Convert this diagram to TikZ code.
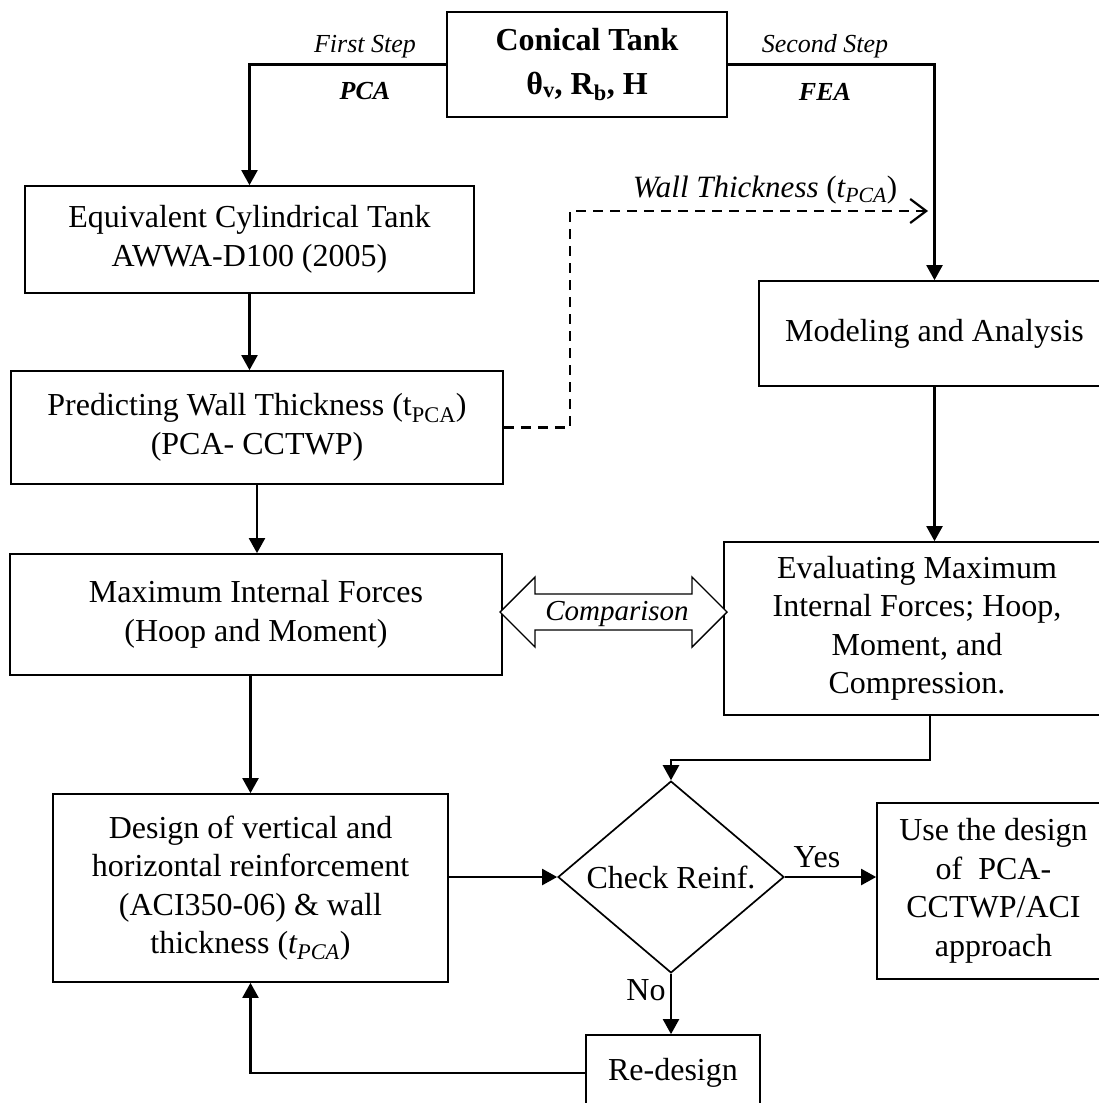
\documentclass[tikz,border=0pt]{standalone}
\usepackage{fontspec}
\setmainfont{Liberation Serif}
\usetikzlibrary{shapes.geometric,arrows.meta,calc}
\begin{document}
\begin{tikzpicture}[x=1pt,y=-1pt,
  every node/.style={font=\fontsize{32}{38.5}\selectfont},
  box/.style={draw, line width=1.7pt, rectangle, inner sep=0pt, align=center},
  arr/.style={line width=2.2pt, -{Triangle[length=15pt,width=16pt]}},
  lbl/.style={font=\fontsize{26}{30}\selectfont\itshape, anchor=base},
]
\useasboundingbox (0,0) rectangle (1099,1103);
\clip (0,0) rectangle (1099,1103);

% boxes
\node[box, minimum width=280pt, minimum height=105pt, font=\fontsize{32}{44}\selectfont\bfseries] (tank) at (587,64.5)
  {Conical Tank\\ θ\textsubscript{v}, R\textsubscript{b}, H};
\node[box, minimum width=449pt, minimum height=107pt] (eq) at (249.5,239.5)
  {Equivalent Cylindrical Tank\\AWWA-D100 (2005)};
\node[box, minimum width=492pt, minimum height=113pt] (pred) at (257,427.5)
  {Predicting Wall Thickness (t\textsubscript{PCA})\\(PCA- CCTWP)};
\node[box, minimum width=492pt, minimum height=121pt] (max) at (256,614.5)
  {Maximum Internal Forces\\(Hoop and Moment)};
\node[box, minimum width=395pt, minimum height=188pt] (des) at (250.5,888)
  {Design of vertical and\\horizontal reinforcement\\(ACI350-06) \& wall\\thickness (\textit{t\textsubscript{PCA}})};
\node[box, minimum width=351pt, minimum height=105pt] (model) at (934.5,333.5)
  {Modeling and Analysis};
\node[box, minimum width=386pt, minimum height=173pt] (eval) at (917,628.5)
  {Evaluating Maximum\\Internal Forces; Hoop,\\Moment, and\\Compression.};
\node[draw, diamond, line width=1.7pt, minimum width=226pt, minimum height=169pt, inner sep=0pt] (dia) at (671,877)
  {Check Reinf.};
\node[box, minimum width=233pt, minimum height=176pt] (use) at (993.5,891)
  {Use the design\\of~ PCA-\\CCTWP/ACI\\approach};
\node[box, minimum width=174pt, minimum height=76pt] (redes) at (673,1073)
  {Re-design};

% labels
\node[lbl] (l1) at (365,52) {First Step};
\node[lbl, font=\fontsize{26}{30}\selectfont\bfseries\itshape] (l2) at (365,99) {PCA};
\node[lbl] (l3) at (825,52) {Second Step};
\node[lbl, font=\fontsize{26}{30}\selectfont\bfseries\itshape] (l4) at (825,100) {FEA};
\node[anchor=base, font=\fontsize{31}{36}\selectfont] (l5) at (765,197) {\textit{Wall Thickness} (\textit{t\textsubscript{PCA}})};

% connectors
\draw[arr] (tank.west) -| (eq.north);
\draw[arr] (tank.east) -| (model.north);
\draw[arr] (eq.south) -- (eq.south |- pred.north);
\draw[arr] (pred.south) -- (pred.south |- max.north);
\draw[arr] (des.north |- max.south) -- (des.north);
\coordinate (dtip) at (928,211);
\draw[line width=2.2pt, dash pattern=on 10pt off 7pt, -{Straight Barb[length=16pt,width=24pt]}]
  (pred.east) -- ++(66,0) |- (dtip);
\draw[arr] (model.south) -- (model.south |- eval.north);

% comparison double arrow
\draw[line width=1.4pt, fill=white] (500,612) -- (535,577) -- (535,594) -- (692,594) -- (692,577)
  -- (727,612) -- (692,647) -- (692,630) -- (535,630) -- (535,647) -- cycle;
\node[anchor=base, font=\fontsize{29}{34}\selectfont\itshape] (cmp) at (617,620) {Comparison};

\draw[arr] ($(eval.south)+(13,0)$) -- ++(0,44) -| (dia.north);
\draw[arr] (des.east |- dia.west) -- (dia.west);
\draw[arr] (dia.east) -- (dia.east -| use.west);
\node[anchor=base] (yes) at (817,867) {Yes};
\draw[arr] (dia.south) -- (dia.south |- redes.north);
\node[anchor=base] (no) at (646,1000) {No};
\draw[arr] (redes.west) -| (des.south);
\end{tikzpicture}
\end{document}
